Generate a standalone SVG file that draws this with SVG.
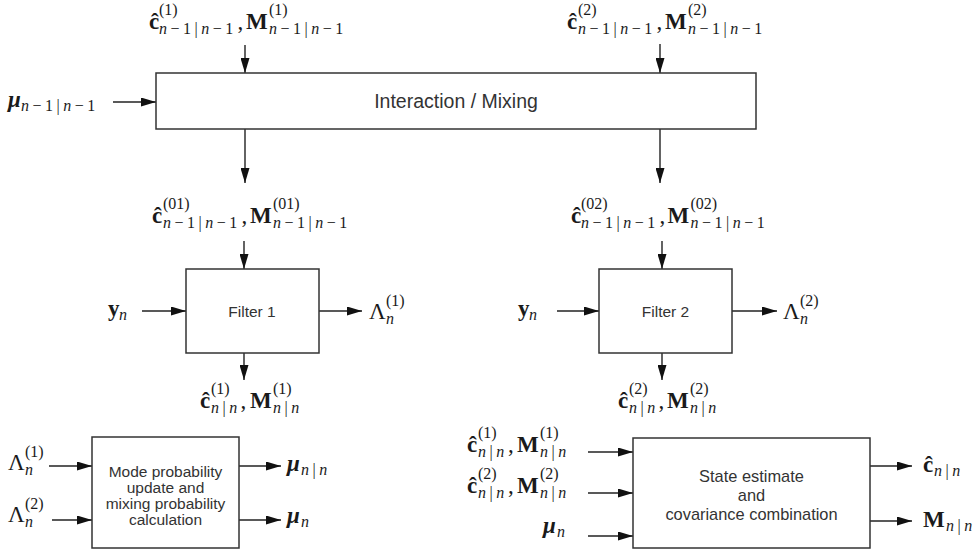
<svg xmlns="http://www.w3.org/2000/svg" width="979" height="553" viewBox="0 0 979 553">
<style>
.box{fill:#fff;stroke:#333;stroke-width:1.5}
.c{stroke:#222;stroke-width:1.4;fill:none;marker-end:url(#ah)}
.t{font-family:"Liberation Sans",Arial,sans-serif;fill:#333;text-anchor:middle}
.m{font-family:"Liberation Serif","Times New Roman",serif;font-size:23px;fill:#1a1a1a}
.b{font-weight:bold}
.bi{font-weight:bold;font-style:italic}
.sup{font-size:16px;font-weight:normal;font-style:normal}
.sub{font-size:16px;letter-spacing:3.5px;font-weight:normal;font-style:normal}
.i{font-style:italic}
</style>
<defs>
<marker id="ah" markerUnits="userSpaceOnUse" viewBox="0 0 15 9" markerWidth="15" markerHeight="9" refX="15" refY="4.5" orient="auto">
<path d="M0,0 L15,4.5 L0,9 z" fill="#111"/>
</marker>
</defs>
<rect width="979" height="553" fill="#fff"/>

<g id="connectors">
<line class="c" x1="245" y1="45" x2="245" y2="73"/>
<line class="c" x1="660" y1="44" x2="660" y2="73"/>
<line class="c" x1="113" y1="102" x2="156" y2="102"/>
<line class="c" x1="245" y1="129" x2="245" y2="183"/>
<line class="c" x1="660" y1="129" x2="660" y2="183"/>
<line class="c" x1="244" y1="241" x2="244" y2="269"/>
<line class="c" x1="662" y1="241" x2="662" y2="269"/>
<line class="c" x1="142" y1="311" x2="186" y2="311"/>
<line class="c" x1="319" y1="311" x2="362" y2="311"/>
<line class="c" x1="244" y1="353" x2="244" y2="380"/>
<line class="c" x1="557" y1="311" x2="599" y2="311"/>
<line class="c" x1="732" y1="311" x2="777" y2="311"/>
<line class="c" x1="662" y1="353" x2="662" y2="380"/>
<line class="c" x1="49" y1="466" x2="92" y2="466"/>
<line class="c" x1="52" y1="520" x2="92" y2="520"/>
<line class="c" x1="239" y1="466" x2="281" y2="466"/>
<line class="c" x1="239" y1="520" x2="281" y2="520"/>
<line class="c" x1="588" y1="452" x2="633" y2="452"/>
<line class="c" x1="588" y1="493" x2="633" y2="493"/>
<line class="c" x1="588" y1="536" x2="633" y2="536"/>
<line class="c" x1="870" y1="466" x2="912" y2="466"/>
<line class="c" x1="870" y1="521" x2="912" y2="521"/>
</g>

<g id="interaction">
<rect class="box" x="156" y="73" width="600" height="56"/>
<text class="t" x="456" y="108" font-size="19.5">Interaction / Mixing</text>
</g>
<g id="filter1">
<rect class="box" x="186" y="269" width="133" height="84"/>
<text class="t" x="252" y="316.5" font-size="15.5">Filter 1</text>
</g>
<g id="filter2">
<rect class="box" x="599" y="269" width="133" height="84"/>
<text class="t" x="665.5" y="316.5" font-size="15.5">Filter 2</text>
</g>
<g id="mode-probability">
<rect class="box" x="92" y="437" width="147" height="111"/>
<text class="t" font-size="15.5"><tspan x="165.5" y="477">Mode probability</tspan><tspan x="165.5" y="493">update and</tspan><tspan x="165.5" y="509">mixing probability</tspan><tspan x="165.5" y="525">calculation</tspan></text>
</g>
<g id="state-estimate">
<rect class="box" x="633" y="438" width="237" height="110"/>
<text class="t" font-size="16.4"><tspan x="751.5" y="482">State estimate</tspan><tspan x="751.5" y="501">and</tspan><tspan x="751.5" y="520">covariance combination</tspan></text>
</g>

<g id="labels">
<text class="m"><tspan class="b" x="149" y="29">ĉ</tspan><tspan class="sup" x="159" y="15">(1)</tspan><tspan class="sub" x="159" y="34"><tspan class="i">n</tspan>−1|<tspan class="i">n</tspan>−1</tspan><tspan x="237.5" y="29">,</tspan><tspan class="b" x="246" y="29">M</tspan><tspan class="sup" x="269" y="15">(1)</tspan><tspan class="sub" x="269" y="34"><tspan class="i">n</tspan>−1|<tspan class="i">n</tspan>−1</tspan></text>
<text class="m"><tspan class="b" x="567" y="29">ĉ</tspan><tspan class="sup" x="578" y="15">(2)</tspan><tspan class="sub" x="578" y="34"><tspan class="i">n</tspan>−1|<tspan class="i">n</tspan>−1</tspan><tspan x="656.5" y="29">,</tspan><tspan class="b" x="665" y="29">M</tspan><tspan class="sup" x="688" y="15">(2)</tspan><tspan class="sub" x="688" y="34"><tspan class="i">n</tspan>−1|<tspan class="i">n</tspan>−1</tspan></text>
<text class="m"><tspan class="bi" x="8" y="107">μ</tspan><tspan class="sub" x="21" y="111"><tspan class="i">n</tspan>−1|<tspan class="i">n</tspan>−1</tspan></text>
<text class="m"><tspan class="b" x="152" y="223">ĉ</tspan><tspan class="sup" x="163" y="209">(01)</tspan><tspan class="sub" x="163" y="228"><tspan class="i">n</tspan>−1|<tspan class="i">n</tspan>−1</tspan><tspan x="241.5" y="223">,</tspan><tspan class="b" x="250" y="223">M</tspan><tspan class="sup" x="273" y="209">(01)</tspan><tspan class="sub" x="273" y="228"><tspan class="i">n</tspan>−1|<tspan class="i">n</tspan>−1</tspan></text>
<text class="m"><tspan class="b" x="571" y="223">ĉ</tspan><tspan class="sup" x="581" y="209">(02)</tspan><tspan class="sub" x="581" y="228"><tspan class="i">n</tspan>−1|<tspan class="i">n</tspan>−1</tspan><tspan x="659.5" y="223">,</tspan><tspan class="b" x="667.5" y="223">M</tspan><tspan class="sup" x="690.5" y="209">(02)</tspan><tspan class="sub" x="690.5" y="228"><tspan class="i">n</tspan>−1|<tspan class="i">n</tspan>−1</tspan></text>
<text class="m"><tspan class="b" x="108" y="316">y</tspan><tspan class="sub i" x="119" y="320">n</tspan></text>
<text class="m"><tspan class="b" x="518" y="316">y</tspan><tspan class="sub i" x="529" y="320">n</tspan></text>
<text class="m"><tspan x="369" y="319">Λ</tspan><tspan class="sup" x="386" y="306">(1)</tspan><tspan class="sub i" x="386" y="324">n</tspan></text>
<text class="m"><tspan x="783" y="319">Λ</tspan><tspan class="sup" x="800" y="306">(2)</tspan><tspan class="sub i" x="800" y="324">n</tspan></text>
<text class="m"><tspan class="b" x="200" y="408">ĉ</tspan><tspan class="sup" x="211" y="394">(1)</tspan><tspan class="sub" x="211" y="413"><tspan class="i">n</tspan>|<tspan class="i">n</tspan></tspan><tspan x="240.5" y="408">,</tspan><tspan class="b" x="250" y="408">M</tspan><tspan class="sup" x="273" y="394">(1)</tspan><tspan class="sub" x="273" y="413"><tspan class="i">n</tspan>|<tspan class="i">n</tspan></tspan></text>
<text class="m"><tspan class="b" x="618" y="408">ĉ</tspan><tspan class="sup" x="629" y="394">(2)</tspan><tspan class="sub" x="629" y="413"><tspan class="i">n</tspan>|<tspan class="i">n</tspan></tspan><tspan x="658.5" y="408">,</tspan><tspan class="b" x="667" y="408">M</tspan><tspan class="sup" x="690" y="394">(2)</tspan><tspan class="sub" x="690" y="413"><tspan class="i">n</tspan>|<tspan class="i">n</tspan></tspan></text>
<text class="m"><tspan x="8" y="470">Λ</tspan><tspan class="sup" x="25" y="457">(1)</tspan><tspan class="sub i" x="25" y="475">n</tspan></text>
<text class="m"><tspan x="8" y="522">Λ</tspan><tspan class="sup" x="25" y="509">(2)</tspan><tspan class="sub i" x="25" y="527">n</tspan></text>
<text class="m"><tspan class="bi" x="287" y="471">μ</tspan><tspan class="sub" x="301" y="475"><tspan class="i">n</tspan>|<tspan class="i">n</tspan></tspan></text>
<text class="m"><tspan class="bi" x="287" y="523">μ</tspan><tspan class="sub i" x="301" y="527">n</tspan></text>
<text class="m"><tspan class="b" x="467" y="452">ĉ</tspan><tspan class="sup" x="478" y="438">(1)</tspan><tspan class="sub" x="478" y="457"><tspan class="i">n</tspan>|<tspan class="i">n</tspan></tspan><tspan x="508" y="452">,</tspan><tspan class="b" x="517" y="452">M</tspan><tspan class="sup" x="540" y="438">(1)</tspan><tspan class="sub" x="540" y="457"><tspan class="i">n</tspan>|<tspan class="i">n</tspan></tspan></text>
<text class="m"><tspan class="b" x="467" y="493">ĉ</tspan><tspan class="sup" x="478" y="479">(2)</tspan><tspan class="sub" x="478" y="498"><tspan class="i">n</tspan>|<tspan class="i">n</tspan></tspan><tspan x="508" y="493">,</tspan><tspan class="b" x="517" y="493">M</tspan><tspan class="sup" x="540" y="479">(2)</tspan><tspan class="sub" x="540" y="498"><tspan class="i">n</tspan>|<tspan class="i">n</tspan></tspan></text>
<text class="m"><tspan class="bi" x="543" y="533">μ</tspan><tspan class="sub i" x="557" y="537">n</tspan></text>
<text class="m"><tspan class="b" x="923" y="472">ĉ</tspan><tspan class="sub" x="934" y="476"><tspan class="i">n</tspan>|<tspan class="i">n</tspan></tspan></text>
<text class="m"><tspan class="b" x="923" y="527">M</tspan><tspan class="sub" x="946" y="531"><tspan class="i">n</tspan>|<tspan class="i">n</tspan></tspan></text>
</g>
</svg>
